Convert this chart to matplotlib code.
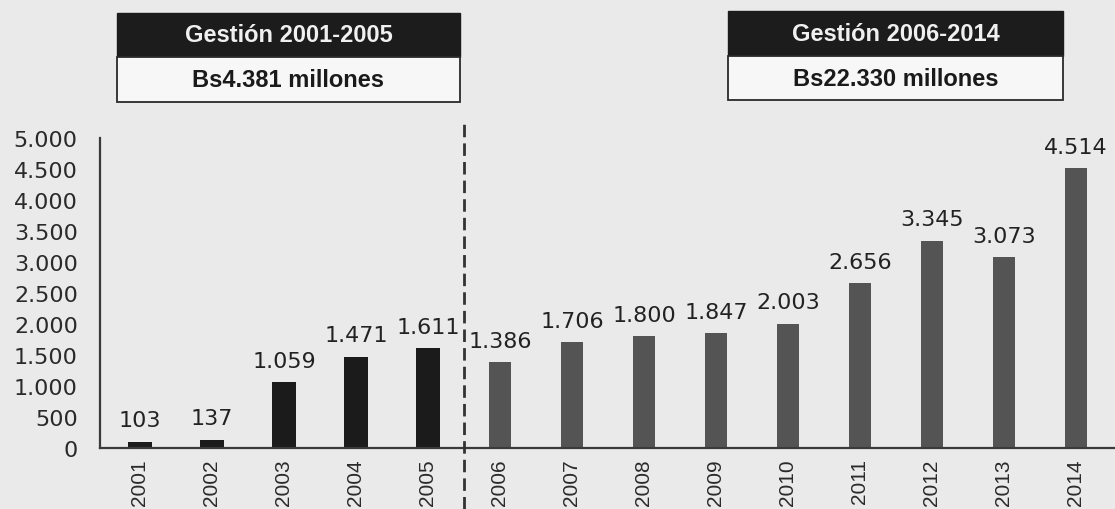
import matplotlib
matplotlib.use("Agg")
import matplotlib.pyplot as plt
from matplotlib.patches import Rectangle
from matplotlib.lines import Line2D

# ---- data ----
years = ["2001", "2002", "2003", "2004", "2005", "2006", "2007",
         "2008", "2009", "2010", "2011", "2012", "2013", "2014"]
values = [103, 137, 1059, 1471, 1611, 1386, 1706,
          1800, 1847, 2003, 2656, 3345, 3073, 4514]
value_labels = ["103", "137", "1.059", "1.471", "1.611", "1.386", "1.706",
                "1.800", "1.847", "2.003", "2.656", "3.345", "3.073", "4.514"]
y_ticks = [0, 500, 1000, 1500, 2000, 2500, 3000, 3500, 4000, 4500, 5000]
y_tick_labels = ["0", "500", "1.000", "1.500", "2.000", "2.500", "3.000",
                 "3.500", "4.000", "4.500", "5.000"]
period_titles = ["Gestión 2001-2005", "Gestión 2006-2014"]
period_totals = ["Bs4.381 millones", "Bs22.330 millones"]
first_period_count = 5

# ---- style ----
W, H = 1115, 510
BG = "#eaeaea"
C1 = "#1b1b1b"
C2 = "#545454"

fig = plt.figure(figsize=(W / 100, H / 100), dpi=100, facecolor=BG)

def fx(px):
    return px / W

def fy(py):
    return 1 - py / H

ax_left, ax_right = 100, 1115
ax_top, ax_bottom = 139, 449
ax = fig.add_axes([fx(ax_left), fy(ax_bottom), fx(ax_right - ax_left),
                   (ax_bottom - ax_top) / H])
ax.set_facecolor(BG)

x = list(range(len(years)))
colors = [C1 if i < first_period_count else C2 for i in x]
widths = [0.33 if i < first_period_count else 0.31 for i in x]
bars = ax.bar(x, values, width=widths, color=colors, zorder=2)

for xi, v, lab in zip(x, values, value_labels):
    ax.annotate(lab, (xi, v), xytext=(0, 15.5), textcoords="offset points",
                ha="center", va="center", fontsize=16, family="DejaVu Sans",
                color="#222222", annotation_clip=False)

spacing_px = 72.0
first_px = 140.0
ax.set_xlim((ax_left - first_px) / spacing_px, (ax_right - first_px) / spacing_px)
ax.set_ylim(0, 5000)
ax.set_yticks(y_ticks)
ax.set_yticklabels(y_tick_labels, family="DejaVu Sans", fontsize=16, color="#2a2a2a")
ax.set_xticks(x)
ax.set_xticklabels(years, rotation=90, family="Liberation Sans", fontsize=15,
                   color="#2a2a2a", va="top")
ax.tick_params(axis="y", length=0, pad=16)
ax.tick_params(axis="x", length=0, pad=7.5)
for s in ["top", "right"]:
    ax.spines[s].set_visible(False)
ax.spines["left"].set_color("#3a3a3a")
ax.spines["left"].set_linewidth(1.6)
ax.spines["bottom"].set_color("#3a3a3a")
ax.spines["bottom"].set_linewidth(1.6)

# dashed divider between the two periods
div_x = first_period_count - 0.5
fig.canvas.draw()
disp = ax.transData.transform((div_x, 0))
div_fx = fig.transFigure.inverted().transform(disp)[0]
fig.add_artist(Line2D([div_fx, div_fx], [fy(510), fy(122)], transform=fig.transFigure,
                      color="#333333", lw=2.0, linestyle=(0, (4.5, 2.2))))

# header boxes
boxes = [(117, 460, 14, 58, 103), (728, 1063, 12, 57, 101)]
for (x0, x1, yt, ym, yb), title, total in zip(boxes, period_titles, period_totals):
    fig.add_artist(Rectangle((fx(x0), fy(ym)), fx(x1 - x0), (ym - yt) / H,
                             transform=fig.transFigure, facecolor="#1c1c1c",
                             edgecolor="#1c1c1c", lw=1))
    fig.add_artist(Rectangle((fx(x0), fy(yb)), fx(x1 - x0), (yb - ym) / H,
                             transform=fig.transFigure, facecolor="#f7f7f7",
                             edgecolor="#2a2a2a", lw=1.3))
    fig.text(fx((x0 + x1) / 2), fy((yt + ym) / 2), title, ha="center", va="center",
             color="#f0f0f0", fontsize=17, fontweight="bold", family="Liberation Sans")
    fig.text(fx((x0 + x1) / 2), fy((ym + yb) / 2), total, ha="center", va="center",
             color="#1a1a1a", fontsize=17, fontweight="bold", family="Liberation Sans")

fig.savefig("out.png", dpi=100, facecolor=BG)
